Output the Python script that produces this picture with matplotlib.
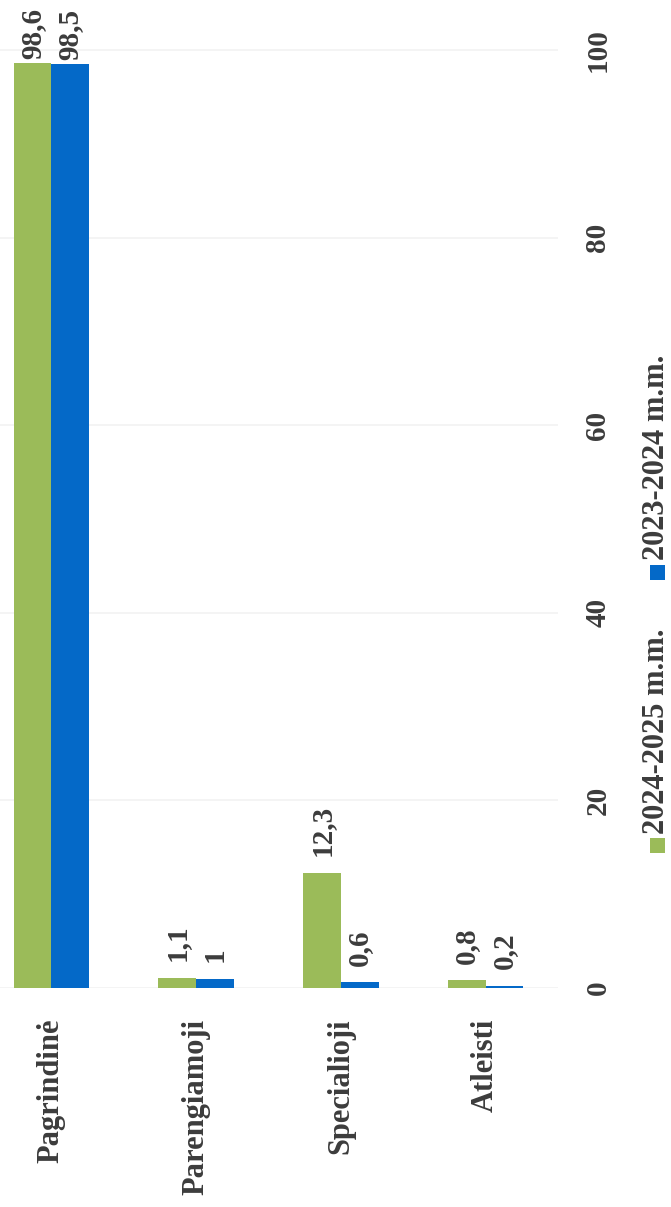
import numpy as np
import matplotlib
matplotlib.use("Agg")
import matplotlib.pyplot as plt
from matplotlib.patches import Rectangle

# Data
categories = ["Pagrindinė", "Parengiamoji", "Specialioji", "Atleisti"]
series_names = ["2024-2025 m.m.", "2023-2024 m.m."]
vals_2425 = [98.6, 1.1, 12.3, 0.8]
vals_2324 = [98.5, 1.0, 0.6, 0.2]
value_ticks = [0, 20, 40, 60, 80, 100]

green = "#9BBB59"
blue = "#0469C8"
txt = "#3c3c3c"

plt.rcParams["font.family"] = ["Liberation Serif", "DejaVu Serif"]

W, H = 671, 1207
fig = plt.figure(figsize=(W / 100, H / 100), dpi=100)
ax = fig.add_axes([0, (H - 988) / H, 558 / W, 988 / H])

x = np.arange(len(categories))
bw = 0.26
b1 = ax.bar(x - bw / 2, vals_2425, bw, color=green, zorder=2)
b2 = ax.bar(x + bw / 2, vals_2324, bw, color=blue, zorder=2)

# value labels, rotated like the rest of the page
def fmt(v):
    s = f"{v:g}"
    return s.replace(".", ",")

for bars, vals in [(b1, vals_2425), (b2, vals_2324)]:
    for rect, v in zip(bars, vals):
        off = 3 if v > 90 else 12
        ax.annotate(fmt(v), (rect.get_x() + rect.get_width() / 2, v),
                    xytext=(0, off), textcoords="offset points",
                    rotation=90, rotation_mode="anchor",
                    ha="left", va="center", fontsize=21,
                    fontweight="bold", color=txt)

ax.set_xlim(-0.355, 3.5)
ax.set_ylim(0, 105.33)
ax.set_yticks(value_ticks)
ax.set_yticklabels([str(t) for t in value_ticks])
ax.yaxis.tick_right()
ax.tick_params(axis="y", length=0, pad=19, labelsize=21, labelcolor=txt)
plt.setp(ax.get_yticklabels(), rotation=90, va="center", fontweight="bold")

ax.set_xticks(x)
ax.set_xticklabels(categories, rotation=90, fontsize=22, fontweight="bold", color=txt)
ax.tick_params(axis="x", length=0, pad=22)

ax.grid(axis="y", color="#f2f2f2", linewidth=1.2, zorder=0)
for s in ax.spines.values():
    s.set_visible(False)

# legend drawn by hand so it can be turned with the page
leg_x = 657
leg_items = [(series_names[0], green, 845), (series_names[1], blue, 572)]
sq = 15
for name, col, yy in leg_items:
    fig.patches.append(Rectangle(((leg_x - sq / 2) / W, (H - yy - sq / 2) / H),
                                 sq / W, sq / H, transform=fig.transFigure,
                                 facecolor=col, edgecolor="none"))
    fig.text(leg_x / W, (H - yy + sq / 2 + 4) / H, name, rotation=90,
             rotation_mode="anchor", ha="left", va="center", fontsize=22,
             fontweight="bold", color=txt)

fig.savefig("out.png", dpi=100, facecolor="white")
